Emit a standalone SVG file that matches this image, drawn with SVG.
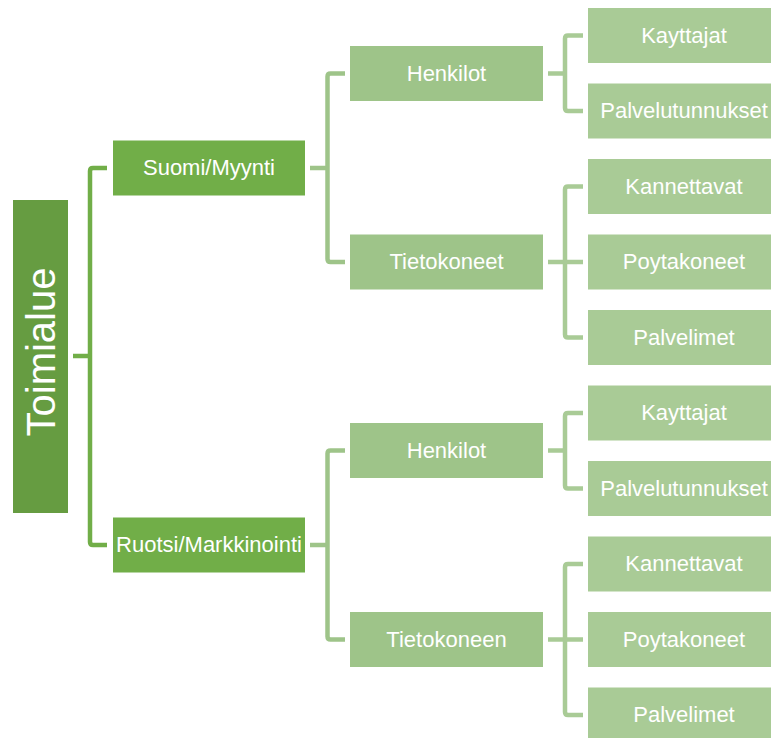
<svg xmlns="http://www.w3.org/2000/svg" width="771" height="738" viewBox="0 0 771 738">
<style>
.t{font-family:"Liberation Sans",Arial,sans-serif;font-size:22px;fill:#fff;text-anchor:middle}
.r{fill:#669c41}
.l1{fill:#71ae48}
.l2{fill:#9ec489}
.l3{fill:#a9cb96}
.c1{fill:none;stroke:#71ae48;stroke-width:4.5}
.c2{fill:none;stroke:#9ec489;stroke-width:4.5}
.c3{fill:none;stroke:#a9cb96;stroke-width:4.5}
</style>
<rect width="771" height="738" fill="#fff"/>
<g id="connectors">
<path class="c1" d="M73,356 H90 M107,168 H93 Q90,168 90,171 V542 Q90,545 93,545 H107"/>
<path class="c2" d="M310,168 H327.5 M345,73.5 H330.5 Q327.5,73.5 327.5,76.5 V259 Q327.5,262 330.5,262 H345"/>
<path class="c2" d="M310,545 H327.5 M345,450.5 H330.5 Q327.5,450.5 327.5,453.5 V636.5 Q327.5,639.5 330.5,639.5 H345"/>
<path class="c3" d="M548,73.5 H565 M583,35.5 H568 Q565,35.5 565,38.5 V108 Q565,111 568,111 H583"/>
<path class="c3" d="M548,262 H583 M583,186.5 H568 Q565,186.5 565,189.5 V334.5 Q565,337.5 568,337.5 H583"/>
<path class="c3" d="M548,450.5 H565 M583,413 H568 Q565,413 565,416 V485.5 Q565,488.5 568,488.5 H583"/>
<path class="c3" d="M548,639.5 H583 M583,564 H568 Q565,564 565,567 V712 Q565,715 568,715 H583"/>
</g>
<g id="root"><rect class="r" x="13" y="200" width="55" height="313"/><text class="t" style="font-size:40px" transform="translate(54.5,352) rotate(-90)">Toimialue</text></g>
<g id="suomi"><rect class="l1" x="113" y="140.5" width="192" height="55"/><text class="t" x="209" y="175">Suomi/Myynti</text></g>
<g id="ruotsi"><rect class="l1" x="113" y="517.5" width="192" height="55"/><text class="t" x="209" y="552">Ruotsi/Markkinointi</text></g>
<g id="henkilot1"><rect class="l2" x="350" y="46" width="193" height="55"/><text class="t" x="446.5" y="80.5">Henkilot</text></g>
<g id="tietokoneet1"><rect class="l2" x="350" y="234.5" width="193" height="55"/><text class="t" x="446.5" y="269">Tietokoneet</text></g>
<g id="henkilot2"><rect class="l2" x="350" y="423" width="193" height="55"/><text class="t" x="446.5" y="457.5">Henkilot</text></g>
<g id="tietokoneen2"><rect class="l2" x="350" y="612" width="193" height="55"/><text class="t" x="446.5" y="646.5">Tietokoneen</text></g>
<g id="kayttajat1"><rect class="l3" x="588" y="8" width="192" height="55"/><text class="t" x="684" y="42.5">Kayttajat</text></g>
<g id="palvelutunnukset1"><rect class="l3" x="588" y="83.5" width="192" height="55"/><text class="t" x="684" y="118">Palvelutunnukset</text></g>
<g id="kannettavat1"><rect class="l3" x="588" y="159" width="192" height="55"/><text class="t" x="684" y="193.5">Kannettavat</text></g>
<g id="poytakoneet1"><rect class="l3" x="588" y="234.5" width="192" height="55"/><text class="t" x="684" y="269">Poytakoneet</text></g>
<g id="palvelimet1"><rect class="l3" x="588" y="310" width="192" height="55"/><text class="t" x="684" y="344.5">Palvelimet</text></g>
<g id="kayttajat2"><rect class="l3" x="588" y="385.5" width="192" height="55"/><text class="t" x="684" y="420">Kayttajat</text></g>
<g id="palvelutunnukset2"><rect class="l3" x="588" y="461" width="192" height="55"/><text class="t" x="684" y="495.5">Palvelutunnukset</text></g>
<g id="kannettavat2"><rect class="l3" x="588" y="536.5" width="192" height="55"/><text class="t" x="684" y="571">Kannettavat</text></g>
<g id="poytakoneet2"><rect class="l3" x="588" y="612" width="192" height="55"/><text class="t" x="684" y="646.5">Poytakoneet</text></g>
<g id="palvelimet2"><rect class="l3" x="588" y="687.5" width="192" height="55"/><text class="t" x="684" y="722">Palvelimet</text></g>
</svg>
